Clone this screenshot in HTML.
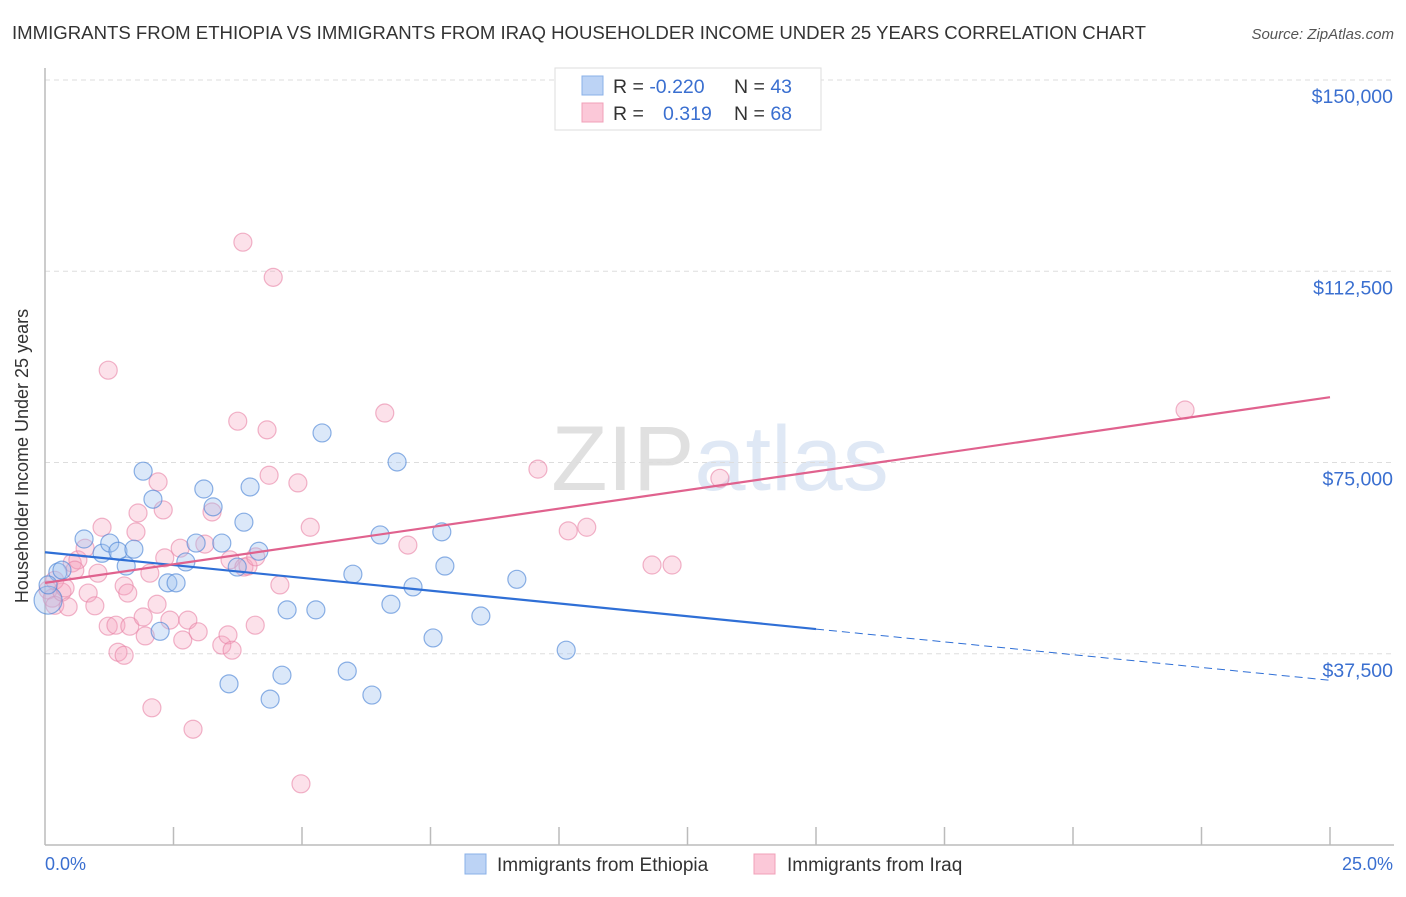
<!DOCTYPE html>
<html><head><meta charset="utf-8"><style>
body{margin:0;background:#fff;font-family:"Liberation Sans",sans-serif;}
svg text{font-family:"Liberation Sans",sans-serif;}
</style></head><body>
<svg id="chart" width="1406" height="892" viewBox="0 0 1406 892">
<text x="12" y="39" font-size="18" fill="#333" textLength="1134" lengthAdjust="spacingAndGlyphs">IMMIGRANTS FROM ETHIOPIA VS IMMIGRANTS FROM IRAQ HOUSEHOLDER INCOME UNDER 25 YEARS CORRELATION CHART</text>
<text x="1394" y="39" font-size="15" fill="#555" font-style="italic" text-anchor="end">Source: ZipAtlas.com</text>
<text x="720" y="490" font-size="92" fill="#e4e4e4" text-anchor="middle" font-family="Liberation Serif"><tspan fill="#e0e0e0">ZIP</tspan><tspan fill="#dfe8f5" font-family="Liberation Sans">atlas</tspan></text>
<g id="grid"></g>
<line x1="45" y1="68" x2="45" y2="845" stroke="#bbb" stroke-width="1.5"/>
<line x1="45" y1="845" x2="1394" y2="845" stroke="#bbb" stroke-width="1.5"/>
<g id="xticks"></g>
<text x="28" y="456" font-size="18" fill="#333" text-anchor="middle" transform="rotate(-90 28 456)">Householder Income Under 25 years</text>
<text x="45" y="870" font-size="18" fill="#3a6fd0">0.0%</text>
<text x="1393" y="870" font-size="18" fill="#3a6fd0" text-anchor="end">25.0%</text>
<g id="pts"></g>
<g id="trends"></g>
<g>
<rect x="555" y="68" width="266" height="62" fill="#fff" stroke="#ddd"/>
<rect x="582" y="76" width="21" height="19" fill="#bcd3f5" stroke="#8ab0e8"/>
<rect x="582" y="103" width="21" height="19" fill="#fbc8d8" stroke="#f0a0b8"/>
<text x="613" y="93" font-size="19.5" fill="#333">R = <tspan fill="#3a6fd0">-0.220</tspan></text>
<text x="734" y="93" font-size="19.5" fill="#333">N = <tspan fill="#3a6fd0">43</tspan></text>
<text x="613" y="120" font-size="19.5" fill="#333">R = <tspan fill="#3a6fd0" x="663">0.319</tspan></text>
<text x="734" y="120" font-size="19.5" fill="#333">N = <tspan fill="#3a6fd0">68</tspan></text>
</g>
<g>
<rect x="465" y="854" width="21" height="20" fill="#bcd3f5" stroke="#8ab0e8"/>
<text x="497" y="871" font-size="19" fill="#333">Immigrants from Ethiopia</text>
<rect x="754" y="854" width="21" height="20" fill="#fbc8d8" stroke="#f0a0b8"/>
<text x="787" y="871" font-size="19" fill="#333">Immigrants from Iraq</text>
</g>
</svg>
<script>
const yTicks=[37500,75000,112500,150000];
const yTickLabels=["$37,500","$75,000","$112,500","$150,000"];
const ethX=[0.06,0.25,0.76,1.11,1.26,1.42,1.58,1.73,1.91,2.10,2.24,2.39,2.55,2.74,2.94,3.09,3.27,3.44,3.58,3.74,3.87,3.99,4.16,4.38,4.61,4.71,5.27,5.39,5.88,5.99,6.36,6.52,6.73,6.85,7.16,7.55,7.72,7.78,8.48,9.18,10.14,0.06,0.33];
const ethY=[48.0,53.5,60.0,57.2,59.2,57.6,54.7,58.0,73.3,67.8,41.9,51.4,51.4,55.5,59.2,69.8,66.3,59.2,31.6,54.5,63.3,70.2,57.6,28.6,33.3,46.1,46.1,80.8,34.1,53.1,29.4,60.8,47.2,75.1,50.6,40.6,61.4,54.7,44.9,52.1,38.2,51.0,53.9];
const iraqX=[0.06,0.14,0.19,0.33,0.45,0.53,0.64,0.78,0.84,0.97,1.03,1.11,1.23,1.38,1.42,1.54,1.54,1.61,1.65,1.23,1.77,1.81,1.91,1.95,2.04,2.08,2.18,2.20,2.30,2.33,2.43,2.63,2.68,2.78,2.88,2.98,3.11,3.25,3.44,3.56,3.64,3.60,3.75,3.85,3.87,3.95,4.09,4.10,4.32,4.36,4.44,4.57,4.92,4.98,5.16,6.61,7.06,9.59,10.18,10.54,11.81,12.20,13.13,22.18,0.19,0.39,0.58];
const iraqY=[50.0,48.4,47.0,49.6,46.7,55.3,55.9,58.2,49.4,46.9,53.3,62.3,42.9,43.1,37.8,37.2,50.8,49.4,42.9,93.1,61.4,65.1,44.7,41.0,53.3,26.9,47.2,71.2,65.7,56.3,44.1,58.2,40.2,44.1,22.7,41.8,59.0,65.3,39.2,41.2,38.2,55.9,83.1,118.2,54.5,54.7,43.1,56.5,81.4,72.5,111.3,51.0,71.0,12.0,62.3,84.7,58.8,73.7,61.6,62.3,54.9,54.9,71.9,85.3,51.9,50.4,53.9];
const ethTrend=[57.4,32.3];
const iraqTrend=[51.4,87.8];
const ethSolidEnd=15.0;

const NS="http://www.w3.org/2000/svg";
const sx=v=>45+v/25*1285;
const sy=v=>845-v/150*765;
function mk(tag,attrs,parent){const e=document.createElementNS(NS,tag);for(const k in attrs)e.setAttribute(k,attrs[k]);parent.appendChild(e);return e;}
const grid=document.getElementById('grid');
yTicks.forEach((t,i)=>{
 const y=sy(t/1000);
 const l=mk('line',{x1:45,x2:1394,y1:y,y2:y,stroke:'#ddd','stroke-dasharray':'5,4'},grid);
 
 
 const tx=mk('text',{x:1393,y:y+23,'font-size':19.5,fill:'#3a6fd0','text-anchor':'end'},grid);
 tx.textContent=yTickLabels[i];
 
 
});
const xt=document.getElementById('xticks');
for(let i=1;i<=10;i++){
 const x=sx(i*2.5);
 const l=mk('line',{x1:x,x2:x,y1:827,y2:845,stroke:'#bbb','stroke-width':1.5},xt);
 
 
}
const pts=document.getElementById('pts');
iraqX.forEach((x,i)=>{
 const c=mk('circle',{cx:sx(x),cy:sy(iraqY[i]),r:9,fill:'rgba(245,165,192,0.33)',stroke:'rgba(232,130,165,0.6)','stroke-width':1.2},pts);
 
 
});
ethX.forEach((x,i)=>{
 const c=mk('circle',{cx:sx(x),cy:sy(ethY[i]),r:i===0?14:9,fill:'rgba(160,195,240,0.38)',stroke:'rgba(80,135,215,0.65)','stroke-width':1.2},pts);
 
 
});
const tr=document.getElementById('trends');
const eAt=x=>ethTrend[0]+(ethTrend[1]-ethTrend[0])*x/25;
const l1=mk('line',{x1:sx(0),y1:sy(eAt(0)),x2:sx(ethSolidEnd),y2:sy(eAt(ethSolidEnd)),stroke:'#2f6fd6','stroke-width':2.2},tr);


const l2=mk('line',{x1:sx(ethSolidEnd),y1:sy(eAt(ethSolidEnd)),x2:sx(25),y2:sy(eAt(25)),stroke:'#2f6fd6','stroke-width':1,'stroke-dasharray':'8,5'},tr);


const l3=mk('line',{x1:sx(0),y1:sy(iraqTrend[0]),x2:sx(25),y2:sy(iraqTrend[1]),stroke:'#e0628e','stroke-width':2.2},tr);


</script>
</body></html>
